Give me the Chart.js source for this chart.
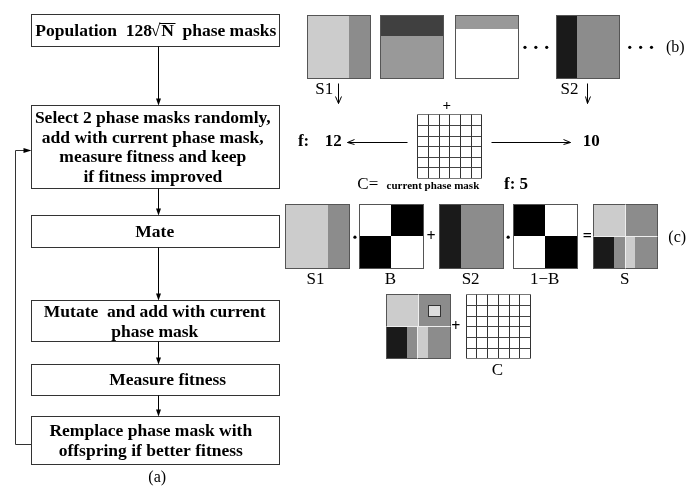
<!DOCTYPE html>
<html>
<head>
<meta charset="utf-8">
<script src="https://cdn.jsdelivr.net/npm/chart.js@4.4.1/dist/chart.umd.min.js"></script>
<style>
  body { margin: 0; background: #fff; }
  canvas { display: block; }
</style>
</head>
<body>
<canvas id="diagram" width="700" height="496"></canvas>
<script>
// ---- content ----
var steps = [
  ['Population  128|N  phase masks'],
  ['Select 2 phase masks randomly,', 'add with current phase mask,', 'measure fitness and keep', 'if fitness improved'],
  ['Mate'],
  ['Mutate  and add with current', 'phase mask'],
  ['Measure fitness'],
  ['Remplace phase mask with', 'offspring if better fitness']
];
var fitness = [12, 10, 5];          // f of S1+C, S2+C, C
var topLabels = ['S1', 'S2'];
var crossLabels = ['S1', 'B', 'S2', '1\u2212B', 'S'];
var crossOps = ['dot', '+', 'dot', '='];
var panelLabels = ['(a)', '(b)', '(c)'];
var gridCells = 6;

// grey levels of the phase masks: [x0, y0, x1, y1, colour] as fractions of the square
var masks = {
  S1: [[0, 0, 0.67, 1, '#cccccc'], [0.67, 0, 1, 1, '#8c8c8c']],
  P2: [[0, 0, 1, 0.33, '#404040'], [0, 0.33, 1, 1, '#999999']],
  P3: [[0, 0, 1, 0.23, '#999999'], [0, 0.23, 1, 1, '#ffffff']],
  S2: [[0, 0, 0.34, 1, '#1a1a1a'], [0.34, 0, 1, 1, '#8c8c8c']],
  B:  [[0, 0, 0.5, 0.5, '#ffffff'], [0.5, 0, 1, 0.5, '#000000'], [0, 0.5, 0.5, 1, '#000000'], [0.5, 0.5, 1, 1, '#ffffff']],
  NB: [[0, 0, 0.5, 0.5, '#000000'], [0.5, 0, 1, 0.5, '#ffffff'], [0, 0.5, 0.5, 1, '#ffffff'], [0.5, 0.5, 1, 1, '#000000']],
  S:  [[0, 0, 0.5, 0.5, '#cccccc'], [0.5, 0, 1, 0.5, '#8c8c8c'], [0, 0.5, 0.33, 1, '#1a1a1a'],
       [0.33, 0.5, 0.49, 1, '#8c8c8c'], [0.49, 0.5, 0.65, 1, '#cccccc'], [0.65, 0.5, 1, 1, '#8c8c8c']],
  M:  [[0, 0, 0.5, 0.5, '#cccccc'], [0.5, 0, 1, 0.5, '#8c8c8c'], [0, 0.5, 0.34, 1, '#1a1a1a'],
       [0.34, 0.5, 0.49, 1, '#8c8c8c'], [0.49, 0.5, 0.66, 1, '#cccccc'], [0.66, 0.5, 1, 1, '#8c8c8c'],
       [0.66, 0.17, 0.85, 0.34, '#dddddd']]
};

// ---- layout (diagram units = pixels) ----
var flow = { x0: 27, x1: 278, arrowX: 156, loopX: 11, loopFrom: 447, loopTo: 148, lineGap: 20 };
var boxY = [[10, 43], [103, 187], [214, 247], [301, 343], [366, 397], [419, 468]];
var textShift = [0, -2, 0, 0, 13, -4];
var topSquares = [['S1', 306], ['P2', 380], ['P3', 456], ['S2', 558]];
var crossX = [284, 359, 440, 515, 596];
var dotGroups = [[527, 538, 549], [633, 644, 655]];

var ellipsis = [];
dotGroups.forEach(function(g) { g.forEach(function(x) { ellipsis.push({x: x, y: 44}); }); });

var diagram = {
  id: 'diagram',
  beforeDatasetsDraw: function(chart) {
    var ctx = chart.ctx, xs = chart.scales.x, ys = chart.scales.y;
    var px = function(v) { return Math.round(xs.getPixelForValue(v)); };
    var py = function(v) { return Math.round(ys.getPixelForValue(v)); };

    function text(str, x, y, font, align) {
      ctx.font = font;
      ctx.fillStyle = '#000';
      ctx.textAlign = align || 'center';
      ctx.textBaseline = 'middle';
      ctx.fillText(str, xs.getPixelForValue(x), py(y));
    }
    function line(x1, y1, x2, y2, c) {
      ctx.strokeStyle = c || '#000';
      ctx.lineWidth = 1;
      ctx.beginPath();
      ctx.moveTo(px(x1) + 0.5, py(y1) + 0.5);
      ctx.lineTo(px(x2) + 0.5, py(y2) + 0.5);
      ctx.stroke();
    }
    function solidHead(x, y, dir) {   // dir: 'down' or 'right'
      ctx.fillStyle = '#000';
      ctx.beginPath();
      var X = px(x) + 0.5, Y = py(y) + 0.5;
      if (dir === 'down') { ctx.moveTo(X, Y); ctx.lineTo(X - 2.5, Y - 7); ctx.lineTo(X + 2.5, Y - 7); }
      else { ctx.moveTo(X, Y); ctx.lineTo(X - 8, Y - 2.5); ctx.lineTo(X - 8, Y + 2.5); }
      ctx.closePath();
      ctx.fill();
    }
    function openArrow(x1, y1, x2, y2) {
      line(x1, y1, x2, y2);
      var a = Math.atan2(y2 - y1, x2 - x1);
      [0.35, -0.35].forEach(function(d) {
        line(x2, y2, x2 - 8 * Math.cos(a + d), y2 - 8 * Math.sin(a + d));
      });
    }
    function square(name, x, y, size) {
      masks[name].forEach(function(r) {
        ctx.fillStyle = r[4];
        var a = px(x + r[0] * size), b = py(y + r[1] * size);
        ctx.fillRect(a, b, px(x + r[2] * size) - a, py(y + r[3] * size) - b);
      });
      ctx.strokeStyle = '#555';
      ctx.lineWidth = 1;
      ctx.strokeRect(px(x) + 0.5, py(y) + 0.5, px(x + size) - px(x), py(y + size) - py(y));
    }
    function seams(x, y, size, cuts) {
      cuts.forEach(function(c) { line(x + c[0] * size, y + c[1] * size, x + c[2] * size, y + c[3] * size, '#eeeeee'); });
    }
    function grid(x, y, size) {
      ctx.fillStyle = '#fff';
      ctx.fillRect(px(x), py(y), px(x + size) - px(x), py(y + size) - py(y));
      for (var i = 0; i <= gridCells; i++) {
        var d = size * i / gridCells;
        line(x + d, y, x + d, y + size, '#333');
        line(x, y + d, x + size, y + d, i % gridCells === 0 ? '#777' : '#444');
      }
    }

    // (a) flowchart
    var bold = 'bold 17.5px "Liberation Serif"';
    ctx.lineWidth = 1;
    boxY.forEach(function(b, i) {
      ctx.strokeStyle = '#333';
      ctx.strokeRect(px(flow.x0) + 0.5, py(b[0]) + 0.5, px(flow.x1) - px(flow.x0), py(b[1]) - py(b[0]));
      var lines = steps[i];
      var mid = (b[0] + b[1]) / 2 + 1;
      lines.forEach(function(t, k) {
        var y = mid + (k - (lines.length - 1) / 2) * flow.lineGap;
        var cx = (flow.x0 + flow.x1) / 2 + textShift[i];
        if (t.indexOf('|') < 0) { text(t, cx, y, bold); return; }
        // population line with square root
        var parts = t.split('|');
        var left = parts[0], right = parts[1].slice(1), rad = parts[1].charAt(0);
        ctx.font = bold;
        var wL = ctx.measureText(left).width, wR = ctx.measureText('\u221A').width;
        var wN = ctx.measureText(rad).width, wT = ctx.measureText(right).width;
        var sx = cx - (wL + wR + wN + wT) / 2;
        text(left, sx, y, bold, 'left');
        text('\u221A', sx + wL, y, bold, 'left');
        text(rad, sx + wL + wR + 1, y, bold, 'left');
        line(sx + wL + wR - 1, y - 8, sx + wL + wR + wN + 2, y - 8);
        text(right, sx + wL + wR + wN + 1, y, bold, 'left');
      });
      if (i > 0) {
        line(flow.arrowX, boxY[i - 1][1], flow.arrowX, b[0] - 6);
        solidHead(flow.arrowX, b[0], 'down');
      }
    });
    line(flow.x0, flow.loopFrom, flow.loopX, flow.loopFrom, '#333');
    line(flow.loopX, flow.loopFrom, flow.loopX, flow.loopTo, '#333');
    line(flow.loopX, flow.loopTo, flow.x0 - 6, flow.loopTo, '#333');
    solidHead(flow.x0, flow.loopTo, 'right');
    text(panelLabels[0], 155, 482, '16px "Liberation Serif"');

    // (b) population and current mask
    var reg = '17px "Liberation Serif"';
    var boldNum = 'bold 17px "Liberation Serif"';
    topSquares.forEach(function(s) { square(s[0], s[1], 11, 64); });
    text(panelLabels[1], 679, 45, '16px "Liberation Serif"');
    text(topLabels[0], 324, 87, reg);
    text(topLabels[1], 572, 87, reg);
    openArrow(338, 80, 338, 101);
    openArrow(590, 80, 590, 101);
    text('+', 448, 104, 'bold 15px "Liberation Serif"');
    grid(418, 112, 65);
    text('f:', 303, 140, boldNum);
    text(String(fitness[0]), 333, 140, boldNum);
    openArrow(408, 140, 347, 140);
    openArrow(493, 140, 573, 140);
    text(String(fitness[1]), 594, 140, boldNum);
    text('C=', 368, 184, reg);
    text('current phase mask', 387, 185, 'bold 11px "Liberation Serif"', 'left');
    text('f: ' + fitness[2], 518, 184, boldNum);

    // (c) crossover and mutation
    ['S1', 'B', 'S2', 'NB', 'S'].forEach(function(m, i) {
      square(m, crossX[i], 203, 65);
      text(crossLabels[i], crossX[i] + 32 + (i === 0 ? -1 : 0), 281, reg);
    });
    seams(596, 203, 65, [[0.5, 0, 0.5, 0.5], [0, 0.5, 1, 0.5], [0.49, 0.5, 0.49, 1]]);
    var opX = [355, 432, 510, 590];
    crossOps.forEach(function(o, i) {
      if (o !== 'dot') text(o, opX[i], 237, 'bold 16px "Liberation Serif"');
    });
    text(panelLabels[2], 681, 238, '16px "Liberation Serif"');
    square('M', 386, 295, 65);
    seams(386, 295, 65, [[0.5, 0, 0.5, 0.5], [0, 0.5, 1, 0.5], [0.49, 0.5, 0.49, 1]]);
    ctx.strokeStyle = '#333';
    ctx.strokeRect(px(429) + 0.5, py(306) + 0.5, 12, 11);
    text('+', 457, 328, 'bold 16px "Liberation Serif"');
    grid(467, 295, 65);
    text('C', 499, 373, reg);
  }
};

var dots = ellipsis.concat([{x: 355, y: 237}, {x: 510, y: 237}]);

new Chart(document.getElementById('diagram').getContext('2d'), {
  type: 'scatter',
  data: {
    datasets: [{
      data: dots,
      pointRadius: 1.6,
      pointBackgroundColor: '#000',
      pointBorderWidth: 0
    }]
  },
  options: {
    responsive: false,
    animation: false,
    layout: { padding: 0 },
    scales: {
      x: { type: 'linear', min: 0, max: 700, display: false },
      y: { type: 'linear', min: 0, max: 496, reverse: true, display: false }
    },
    plugins: { legend: { display: false }, tooltip: { enabled: false } }
  },
  plugins: [diagram]
});
</script>
</body>
</html>
